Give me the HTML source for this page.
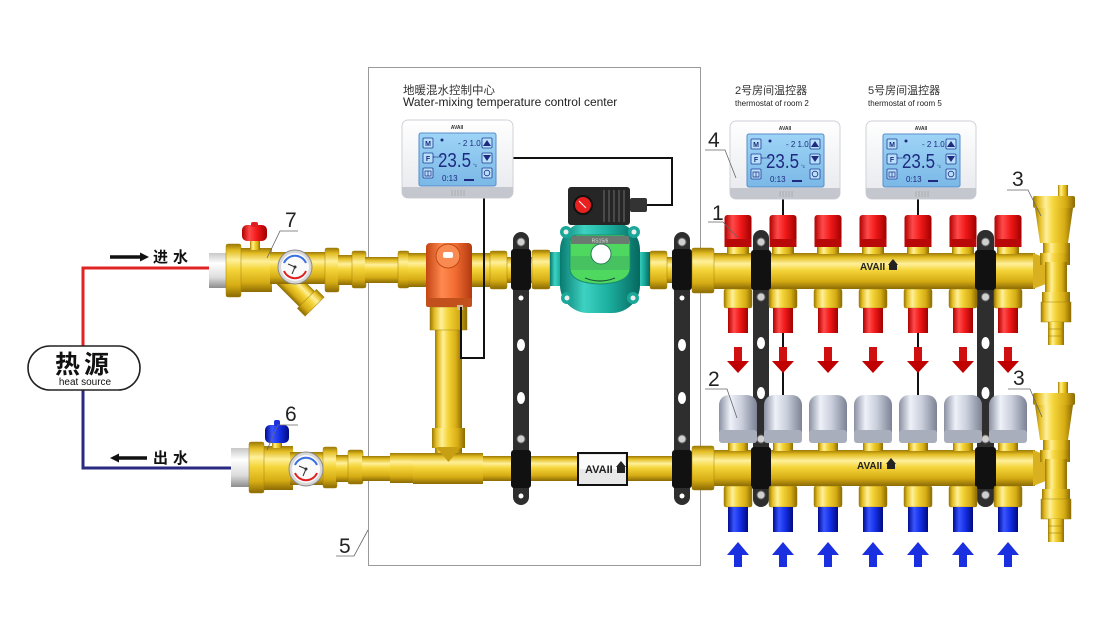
<!DOCTYPE html>
<html><head><meta charset="utf-8">
<style>
html,body{margin:0;padding:0;background:#fff;}
svg{display:block;}
text{font-family:"Liberation Sans","Noto Sans CJK SC",sans-serif;}
.num{font-family:"Liberation Sans Narrow","Liberation Sans",sans-serif;font-size:21px;fill:#222;}
</style></head><body>
<svg width="1099" height="625" viewBox="0 0 1099 625" xmlns="http://www.w3.org/2000/svg">
<defs>
<linearGradient id="bh" x1="0" y1="0" x2="0" y2="1">
 <stop offset="0" stop-color="#9a7806"/><stop offset="0.12" stop-color="#e2bc22"/><stop offset="0.3" stop-color="#fff09a"/><stop offset="0.48" stop-color="#f4d53a"/><stop offset="0.78" stop-color="#d6ac14"/><stop offset="1" stop-color="#8a6a04"/>
</linearGradient>
<linearGradient id="bv" x1="0" y1="0" x2="1" y2="0">
 <stop offset="0" stop-color="#9a7806"/><stop offset="0.12" stop-color="#e2bc22"/><stop offset="0.3" stop-color="#fff09a"/><stop offset="0.48" stop-color="#f4d53a"/><stop offset="0.78" stop-color="#d6ac14"/><stop offset="1" stop-color="#8a6a04"/>
</linearGradient>
<linearGradient id="rv" x1="0" y1="0" x2="1" y2="0">
 <stop offset="0" stop-color="#b00000"/><stop offset="0.3" stop-color="#ff4a4a"/><stop offset="0.6" stop-color="#f01818"/><stop offset="1" stop-color="#a00000"/>
</linearGradient>
<linearGradient id="blv" x1="0" y1="0" x2="1" y2="0">
 <stop offset="0" stop-color="#000c90"/><stop offset="0.3" stop-color="#3a55ff"/><stop offset="0.6" stop-color="#1530e8"/><stop offset="1" stop-color="#000a80"/>
</linearGradient>
<linearGradient id="sv" x1="0" y1="0" x2="1" y2="0">
 <stop offset="0" stop-color="#8a90a2"/><stop offset="0.3" stop-color="#eef1f8"/><stop offset="0.6" stop-color="#c9cedb"/><stop offset="1" stop-color="#7c8294"/>
</linearGradient>
<linearGradient id="tv" x1="0" y1="0" x2="1" y2="0">
 <stop offset="0" stop-color="#087a70"/><stop offset="0.3" stop-color="#3ed2c2"/><stop offset="0.6" stop-color="#1cb0a0"/><stop offset="1" stop-color="#06685e"/>
</linearGradient>
<linearGradient id="ov" x1="0" y1="0" x2="1" y2="0">
 <stop offset="0" stop-color="#c44412"/><stop offset="0.35" stop-color="#ff8a50"/><stop offset="0.65" stop-color="#f06a30"/><stop offset="1" stop-color="#b03a10"/>
</linearGradient>
<linearGradient id="wp" x1="0" y1="0" x2="0" y2="1">
 <stop offset="0" stop-color="#c8c8c8"/><stop offset="0.3" stop-color="#ffffff"/><stop offset="0.7" stop-color="#dcdcdc"/><stop offset="1" stop-color="#8c8c8c"/>
</linearGradient>
<linearGradient id="tb" x1="0" y1="0" x2="0" y2="1">
 <stop offset="0" stop-color="#ffffff"/><stop offset="1" stop-color="#e6e8ec"/>
</linearGradient>
<linearGradient id="scr" x1="0" y1="0" x2="0" y2="1">
 <stop offset="0" stop-color="#9ed4f6"/><stop offset="1" stop-color="#7ab8e6"/>
</linearGradient>
</defs>

<!-- control center frame -->
<rect x="368.5" y="67.5" width="332" height="498" fill="none" stroke="#9a9a9a" stroke-width="1"/>

<!-- heat source lines -->
<polyline points="83,348 83,268 212,268" fill="none" stroke="#e02424" stroke-width="3"/>
<polyline points="83,388 83,468 234,468" fill="none" stroke="#2a2a82" stroke-width="3"/>
<rect x="28" y="346" width="112" height="44" rx="22" fill="#fff" stroke="#222" stroke-width="1.6"/>
<text x="84" y="373" font-size="25" font-weight="bold" text-anchor="middle" fill="#111" letter-spacing="4" font-family="'Liberation Serif','Noto Serif CJK SC',serif">热源</text>
<text x="85" y="385" font-size="10" text-anchor="middle" fill="#111">heat source</text>

<!-- arrows in/out -->
<line x1="110" y1="257" x2="141" y2="257" stroke="#111" stroke-width="3.5"/>
<polygon points="140,252.5 149,257 140,261.5" fill="#111"/>
<text x="153" y="262" font-size="15" font-weight="bold" fill="#111" letter-spacing="5">进水</text>
<line x1="118" y1="458" x2="147" y2="458" stroke="#111" stroke-width="3.5"/>
<polygon points="119,453.5 110,458 119,462.5" fill="#111"/>
<text x="153" y="463" font-size="15" font-weight="bold" fill="#111" letter-spacing="5">出水</text>

<!-- titles -->
<text x="403" y="94" font-size="11.5" fill="#333">地暖混水控制中心</text>
<text x="403" y="106" font-size="12" fill="#222">Water-mixing temperature control center</text>
<text x="735" y="94" font-size="11" fill="#333">2号房间温控器</text>
<text x="735" y="106" font-size="8" fill="#222">thermostat of room 2</text>
<text x="868" y="94" font-size="11" fill="#333">5号房间温控器</text>
<text x="868" y="106" font-size="8" fill="#222">thermostat of room 5</text>

<!-- ===== valve 7 (inlet) ===== -->
<rect x="209" y="253" width="22" height="35" fill="url(#wp)"/>
<g transform="translate(280,272) rotate(45)">
 <rect x="0" y="-11" width="42" height="22" fill="url(#bh)"/>
 <rect x="38" y="-13.5" width="11" height="27" fill="url(#bh)" stroke="#a0800a" stroke-width="0.5"/>
</g>
<rect x="240" y="248" width="32" height="44" fill="url(#bh)"/>
<rect x="270" y="252" width="58" height="32" fill="url(#bh)"/>
<rect x="226" y="244" width="15" height="53" rx="2" fill="url(#bh)" stroke="#a0800a" stroke-width="0.5"/>
<rect x="250" y="237" width="10" height="13" fill="url(#bv)"/>
<rect x="242" y="225" width="25" height="16" rx="5" fill="url(#rv)"/>
<rect x="251" y="222" width="7" height="5" rx="2" fill="#e02020"/>
<rect x="325" y="248" width="14" height="44" rx="2" fill="url(#bh)" stroke="#a0800a" stroke-width="0.5"/>
<rect x="338" y="255" width="15" height="30" fill="url(#bh)"/>
<rect x="352" y="251" width="14" height="37" rx="2" fill="url(#bh)" stroke="#a0800a" stroke-width="0.5"/>
<g transform="translate(295,267)">
 <circle r="17" fill="#d8d8d8" stroke="#888" stroke-width="1"/>
 <circle r="14" fill="#fafafa"/>
 <path d="M-11,-4 A12,12 0 0 1 11,-4" fill="none" stroke="#3a70e0" stroke-width="2"/>
 <path d="M-11,4 A12,12 0 0 0 11,4" fill="none" stroke="#e02020" stroke-width="2"/>
 <line x1="0" y1="0" x2="-7" y2="-3" stroke="#333" stroke-width="1"/>
 <line x1="0" y1="0" x2="-3" y2="7" stroke="#333" stroke-width="1"/>
 <circle r="1.5" fill="#333"/>
</g>

<!-- ===== valve 6 (outlet) ===== -->
<rect x="231" y="448" width="20" height="39" fill="url(#wp)"/>
<rect x="263" y="446" width="30" height="44" fill="url(#bh)"/>
<rect x="290" y="452" width="35" height="33" fill="url(#bh)"/>
<rect x="249" y="442" width="15" height="51" rx="2" fill="url(#bh)" stroke="#a0800a" stroke-width="0.5"/>
<rect x="272" y="437" width="10" height="11" fill="url(#bv)"/>
<rect x="265" y="425" width="24" height="18" rx="5" fill="url(#blv)"/>
<rect x="274" y="420" width="6" height="6" rx="2" fill="#1a30e0"/>
<rect x="323" y="447" width="14" height="41" rx="2" fill="url(#bh)" stroke="#a0800a" stroke-width="0.5"/>
<rect x="336" y="455" width="13" height="27" fill="url(#bh)"/>
<rect x="348" y="450" width="15" height="34" rx="2" fill="url(#bh)" stroke="#a0800a" stroke-width="0.5"/>
<g transform="translate(306,469)">
 <circle r="17" fill="#d8d8d8" stroke="#888" stroke-width="1"/>
 <circle r="14" fill="#fafafa"/>
 <path d="M-11,-4 A12,12 0 0 1 11,-4" fill="none" stroke="#3a70e0" stroke-width="2"/>
 <path d="M-11,4 A12,12 0 0 0 11,4" fill="none" stroke="#e02020" stroke-width="2"/>
 <line x1="0" y1="0" x2="-7" y2="-3" stroke="#333" stroke-width="1"/>
 <line x1="0" y1="0" x2="-3" y2="7" stroke="#333" stroke-width="1"/>
 <circle r="1.5" fill="#333"/>
</g>

<!-- ===== main pipes ===== -->
<rect x="365" y="257" width="335" height="26" fill="url(#bh)"/>
<rect x="362" y="456" width="338" height="25" fill="url(#bh)"/>

<!-- upper fittings -->
<rect x="398" y="251" width="11" height="37" rx="2" fill="url(#bh)" stroke="#a0800a" stroke-width="0.5"/>
<rect x="408" y="253" width="64" height="34" fill="url(#bh)"/>
<rect x="471" y="253" width="20" height="34" fill="url(#bh)"/>
<rect x="490" y="251" width="17" height="38" rx="2" fill="url(#bh)" stroke="#a0800a" stroke-width="0.5"/>
<rect x="532" y="250" width="18" height="39" rx="2" fill="url(#bh)" stroke="#a0800a" stroke-width="0.5"/>
<rect x="650" y="251" width="17" height="38" rx="2" fill="url(#bh)" stroke="#a0800a" stroke-width="0.5"/>

<!-- bypass vertical -->
<rect x="435" y="318" width="27" height="140" fill="url(#bv)"/>
<rect x="432" y="428" width="33" height="20" fill="url(#bv)"/>
<rect x="430" y="307" width="37" height="23" fill="url(#bv)" stroke="#a0800a" stroke-width="0.5"/>
<!-- lower fittings -->
<rect x="390" y="453" width="23" height="30" fill="url(#bh)"/>
<rect x="413" y="453" width="70" height="31" fill="url(#bh)"/>
<polygon points="436,447 461,447 448.5,462" fill="#c89e12"/>

<!-- orange actuator -->
<rect x="426" y="243" width="46" height="64" rx="4" fill="url(#ov)"/>
<rect x="426" y="298" width="46" height="9" rx="2" fill="#c2501c"/>
<circle cx="448" cy="256" r="12" fill="#f88a52" stroke="#c04a10" stroke-width="1"/>
<rect x="443" y="252" width="10" height="6" rx="2" fill="#fff"/>
<rect x="457" y="305" width="6" height="5" fill="#d8b890"/>

<!-- brackets in control box -->
<g>
 <rect x="513" y="232" width="16" height="273" rx="8" fill="#2e2e2e"/>
 <rect x="511" y="249" width="20" height="41" rx="3" fill="#111"/>
 <rect x="511" y="450" width="20" height="38" rx="3" fill="#111"/>
 <circle cx="521" cy="242" r="4" fill="#cfcfcf" stroke="#666"/>
 <circle cx="521" cy="298" r="2.5" fill="#fff"/>
 <ellipse cx="521" cy="345" rx="4" ry="6" fill="#fff"/>
 <ellipse cx="521" cy="398" rx="4" ry="6" fill="#fff"/>
 <circle cx="521" cy="439" r="4" fill="#cfcfcf" stroke="#666"/>
 <circle cx="521" cy="496" r="2.5" fill="#fff"/>
</g>
<g>
 <rect x="674" y="232" width="16" height="273" rx="8" fill="#2e2e2e"/>
 <rect x="672" y="249" width="20" height="41" rx="3" fill="#111"/>
 <rect x="672" y="450" width="20" height="38" rx="3" fill="#111"/>
 <circle cx="682" cy="242" r="4" fill="#cfcfcf" stroke="#666"/>
 <circle cx="682" cy="298" r="2.5" fill="#fff"/>
 <ellipse cx="682" cy="345" rx="4" ry="6" fill="#fff"/>
 <ellipse cx="682" cy="398" rx="4" ry="6" fill="#fff"/>
 <circle cx="682" cy="439" r="4" fill="#cfcfcf" stroke="#666"/>
 <circle cx="682" cy="496" r="2.5" fill="#fff"/>
</g>

<!-- AVAII label on lower pipe -->
<rect x="578" y="453" width="49" height="32" fill="#e8e8e8" stroke="#111" stroke-width="2"/>
<rect x="580" y="455" width="45" height="14" fill="#fbfbfb"/>
<text x="585" y="473" font-size="11" font-weight="bold" fill="#222">AVAII</text>
<path d="M616,467 L621,461 L626,467 Z M617,467 h8 v6 h-8 Z" fill="#222"/>

<!-- pump -->
<rect x="550" y="252" width="16" height="34" fill="url(#tv)"/>
<rect x="634" y="252" width="16" height="34" fill="url(#tv)"/>
<rect x="560" y="222" width="80" height="91" rx="28" fill="url(#tv)"/>
<circle cx="566" cy="232" r="6" fill="#1aa898"/><circle cx="634" cy="232" r="6" fill="#1aa898"/>
<circle cx="567" cy="298" r="6" fill="#1aa898"/><circle cx="633" cy="298" r="6" fill="#1aa898"/>
<circle cx="566" cy="232" r="2.5" fill="#eee"/><circle cx="634" cy="232" r="2.5" fill="#eee"/>
<circle cx="567" cy="298" r="2.5" fill="#eee"/><circle cx="633" cy="298" r="2.5" fill="#eee"/>
<path d="M570,243 Q570,235 578,235 H622 Q630,235 630,243 V268 Q630,283 600,284 Q570,283 570,268 Z" fill="#4fd860" stroke="#1a8a70" stroke-width="1"/>
<rect x="571" y="236" width="58" height="8" fill="#6a7a70"/>
<text x="600" y="242.5" font-size="5" fill="#ddd" text-anchor="middle">RS15/6</text>
<rect x="571" y="256" width="58" height="14" fill="#3a9a60" opacity="0.35"/>
<circle cx="601" cy="254" r="10" fill="#fff" stroke="#2a7a5a" stroke-width="1"/>
<path d="M585,278 Q600,284 615,278" fill="none" stroke="#1a5a3a" stroke-width="1.2"/>
<rect x="568" y="187" width="62" height="38" rx="3" fill="#262626"/>
<g stroke="#555" stroke-width="1.5">
 <line x1="604" y1="190" x2="604" y2="222"/><line x1="609" y1="190" x2="609" y2="222"/><line x1="614" y1="190" x2="614" y2="222"/><line x1="619" y1="190" x2="619" y2="222"/><line x1="624" y1="190" x2="624" y2="222"/>
</g>
<rect x="630" y="198" width="17" height="14" rx="2" fill="#333"/>
<circle cx="583" cy="205" r="9" fill="#e82020" stroke="#111" stroke-width="2"/>
<line x1="579" y1="201" x2="586" y2="208" stroke="#fff" stroke-width="1"/>

<!-- control cables -->
<polyline points="484,198 484,358 461,358 461,307" fill="none" stroke="#111" stroke-width="2"/>
<polyline points="513,158 672,158 672,205 647,205" fill="none" stroke="#111" stroke-width="2"/>

<!-- room cables -->
<line x1="783" y1="199" x2="783" y2="216" stroke="#111" stroke-width="2"/>
<line x1="918" y1="199" x2="918" y2="216" stroke="#111" stroke-width="2"/>
<line x1="783" y1="330" x2="783" y2="397" stroke="#111" stroke-width="2"/>
<line x1="918" y1="330" x2="918" y2="397" stroke="#111" stroke-width="2"/>

<!-- ===== manifolds ===== -->
<rect x="697" y="253" width="338" height="36" fill="url(#bh)"/>
<polygon points="1033,253 1056,262 1056,280 1033,289" fill="#d8b020"/>
<rect x="692" y="248" width="22" height="45" rx="2" fill="url(#bh)" stroke="#a0800a" stroke-width="0.5"/>
<rect x="697" y="450" width="338" height="36" fill="url(#bh)"/>
<polygon points="1033,450 1056,459 1056,477 1033,486" fill="#d8b020"/>
<rect x="692" y="446" width="22" height="44" rx="2" fill="url(#bh)" stroke="#a0800a" stroke-width="0.5"/>

<text x="860" y="270" font-size="10" font-weight="bold" fill="#222">AVAII</text>
<path d="M888,265 L893,259 L898,265 Z M889,265 h8 v5 h-8 Z" fill="#222"/>
<text x="857" y="469" font-size="10" font-weight="bold" fill="#222">AVAII</text>
<path d="M886,464 L891,458 L896,464 Z M887,464 h8 v5 h-8 Z" fill="#222"/>

<!-- manifold brackets -->
<g>
 <rect x="753" y="230" width="16" height="277" rx="8" fill="#2e2e2e"/>
 <rect x="751" y="250" width="20" height="40" rx="3" fill="#111"/>
 <rect x="751" y="447" width="20" height="42" rx="3" fill="#111"/>
 <circle cx="761" cy="242" r="4" fill="#cfcfcf" stroke="#666"/>
 <circle cx="761" cy="297" r="4" fill="#cfcfcf" stroke="#666"/>
 <ellipse cx="761" cy="343" rx="4" ry="6" fill="#fff"/>
 <ellipse cx="761" cy="393" rx="4" ry="6" fill="#fff"/>
 <circle cx="761" cy="439" r="4" fill="#cfcfcf" stroke="#666"/>
 <circle cx="761" cy="495" r="4" fill="#cfcfcf" stroke="#666"/>
</g>
<g>
 <rect x="977" y="230" width="17" height="277" rx="8" fill="#2e2e2e"/>
 <rect x="975" y="250" width="21" height="40" rx="3" fill="#111"/>
 <rect x="975" y="447" width="21" height="42" rx="3" fill="#111"/>
 <circle cx="985.5" cy="242" r="4" fill="#cfcfcf" stroke="#666"/>
 <circle cx="985.5" cy="297" r="4" fill="#cfcfcf" stroke="#666"/>
 <ellipse cx="985.5" cy="343" rx="4" ry="6" fill="#fff"/>
 <ellipse cx="985.5" cy="393" rx="4" ry="6" fill="#fff"/>
 <circle cx="985.5" cy="439" r="4" fill="#cfcfcf" stroke="#666"/>
 <circle cx="985.5" cy="495" r="4" fill="#cfcfcf" stroke="#666"/>
</g>

<!-- outlets: caps, nuts, pipes, arrows -->
<g id="col738">
 <rect x="727" y="246" width="22" height="8" fill="url(#bv)"/>
 <rect x="724.5" y="215" width="27" height="32" rx="3" fill="url(#rv)"/>
 <rect x="724.5" y="239" width="27" height="8" fill="#b80808"/>
 <rect x="724" y="289" width="28" height="19" rx="2" fill="url(#bv)" stroke="#a0800a" stroke-width="0.5"/>
 <rect x="728" y="308" width="20" height="25" fill="url(#rv)"/>
 <rect x="734" y="347" width="8" height="15" fill="#d01010"/>
 <polygon points="727,361 749,361 738,373" fill="#c00000"/>
 <rect x="719" y="395" width="38" height="48" rx="10" fill="url(#sv)"/>
 <rect x="719" y="430" width="38" height="13" rx="3" fill="#a8aebc"/>
 <rect x="728" y="443" width="20" height="8" fill="url(#bv)"/>
 <rect x="724" y="486" width="28" height="21" rx="2" fill="url(#bv)" stroke="#a0800a" stroke-width="0.5"/>
 <rect x="728" y="507" width="20" height="25" fill="url(#blv)"/>
 <polygon points="738,542 749,555 727,555" fill="#1a30e0"/>
 <rect x="734" y="554" width="8" height="13" fill="#1a30e0"/>
</g>
<g transform="translate(45,0)">
 <rect x="727" y="246" width="22" height="8" fill="url(#bv)"/>
 <rect x="724.5" y="215" width="27" height="32" rx="3" fill="url(#rv)"/>
 <rect x="724.5" y="239" width="27" height="8" fill="#b80808"/>
 <rect x="724" y="289" width="28" height="19" rx="2" fill="url(#bv)" stroke="#a0800a" stroke-width="0.5"/>
 <rect x="728" y="308" width="20" height="25" fill="url(#rv)"/>
 <rect x="734" y="347" width="8" height="15" fill="#d01010"/>
 <polygon points="727,361 749,361 738,373" fill="#c00000"/>
 <rect x="719" y="395" width="38" height="48" rx="10" fill="url(#sv)"/>
 <rect x="719" y="430" width="38" height="13" rx="3" fill="#a8aebc"/>
 <rect x="728" y="443" width="20" height="8" fill="url(#bv)"/>
 <rect x="724" y="486" width="28" height="21" rx="2" fill="url(#bv)" stroke="#a0800a" stroke-width="0.5"/>
 <rect x="728" y="507" width="20" height="25" fill="url(#blv)"/>
 <polygon points="738,542 749,555 727,555" fill="#1a30e0"/>
 <rect x="734" y="554" width="8" height="13" fill="#1a30e0"/>
</g>
<g transform="translate(90,0)">
 <rect x="727" y="246" width="22" height="8" fill="url(#bv)"/>
 <rect x="724.5" y="215" width="27" height="32" rx="3" fill="url(#rv)"/>
 <rect x="724.5" y="239" width="27" height="8" fill="#b80808"/>
 <rect x="724" y="289" width="28" height="19" rx="2" fill="url(#bv)" stroke="#a0800a" stroke-width="0.5"/>
 <rect x="728" y="308" width="20" height="25" fill="url(#rv)"/>
 <rect x="734" y="347" width="8" height="15" fill="#d01010"/>
 <polygon points="727,361 749,361 738,373" fill="#c00000"/>
 <rect x="719" y="395" width="38" height="48" rx="10" fill="url(#sv)"/>
 <rect x="719" y="430" width="38" height="13" rx="3" fill="#a8aebc"/>
 <rect x="728" y="443" width="20" height="8" fill="url(#bv)"/>
 <rect x="724" y="486" width="28" height="21" rx="2" fill="url(#bv)" stroke="#a0800a" stroke-width="0.5"/>
 <rect x="728" y="507" width="20" height="25" fill="url(#blv)"/>
 <polygon points="738,542 749,555 727,555" fill="#1a30e0"/>
 <rect x="734" y="554" width="8" height="13" fill="#1a30e0"/>
</g>
<g transform="translate(135,0)">
 <rect x="727" y="246" width="22" height="8" fill="url(#bv)"/>
 <rect x="724.5" y="215" width="27" height="32" rx="3" fill="url(#rv)"/>
 <rect x="724.5" y="239" width="27" height="8" fill="#b80808"/>
 <rect x="724" y="289" width="28" height="19" rx="2" fill="url(#bv)" stroke="#a0800a" stroke-width="0.5"/>
 <rect x="728" y="308" width="20" height="25" fill="url(#rv)"/>
 <rect x="734" y="347" width="8" height="15" fill="#d01010"/>
 <polygon points="727,361 749,361 738,373" fill="#c00000"/>
 <rect x="719" y="395" width="38" height="48" rx="10" fill="url(#sv)"/>
 <rect x="719" y="430" width="38" height="13" rx="3" fill="#a8aebc"/>
 <rect x="728" y="443" width="20" height="8" fill="url(#bv)"/>
 <rect x="724" y="486" width="28" height="21" rx="2" fill="url(#bv)" stroke="#a0800a" stroke-width="0.5"/>
 <rect x="728" y="507" width="20" height="25" fill="url(#blv)"/>
 <polygon points="738,542 749,555 727,555" fill="#1a30e0"/>
 <rect x="734" y="554" width="8" height="13" fill="#1a30e0"/>
</g>
<g transform="translate(180,0)">
 <rect x="727" y="246" width="22" height="8" fill="url(#bv)"/>
 <rect x="724.5" y="215" width="27" height="32" rx="3" fill="url(#rv)"/>
 <rect x="724.5" y="239" width="27" height="8" fill="#b80808"/>
 <rect x="724" y="289" width="28" height="19" rx="2" fill="url(#bv)" stroke="#a0800a" stroke-width="0.5"/>
 <rect x="728" y="308" width="20" height="25" fill="url(#rv)"/>
 <rect x="734" y="347" width="8" height="15" fill="#d01010"/>
 <polygon points="727,361 749,361 738,373" fill="#c00000"/>
 <rect x="719" y="395" width="38" height="48" rx="10" fill="url(#sv)"/>
 <rect x="719" y="430" width="38" height="13" rx="3" fill="#a8aebc"/>
 <rect x="728" y="443" width="20" height="8" fill="url(#bv)"/>
 <rect x="724" y="486" width="28" height="21" rx="2" fill="url(#bv)" stroke="#a0800a" stroke-width="0.5"/>
 <rect x="728" y="507" width="20" height="25" fill="url(#blv)"/>
 <polygon points="738,542 749,555 727,555" fill="#1a30e0"/>
 <rect x="734" y="554" width="8" height="13" fill="#1a30e0"/>
</g>
<g transform="translate(225,0)">
 <rect x="727" y="246" width="22" height="8" fill="url(#bv)"/>
 <rect x="724.5" y="215" width="27" height="32" rx="3" fill="url(#rv)"/>
 <rect x="724.5" y="239" width="27" height="8" fill="#b80808"/>
 <rect x="724" y="289" width="28" height="19" rx="2" fill="url(#bv)" stroke="#a0800a" stroke-width="0.5"/>
 <rect x="728" y="308" width="20" height="25" fill="url(#rv)"/>
 <rect x="734" y="347" width="8" height="15" fill="#d01010"/>
 <polygon points="727,361 749,361 738,373" fill="#c00000"/>
 <rect x="719" y="395" width="38" height="48" rx="10" fill="url(#sv)"/>
 <rect x="719" y="430" width="38" height="13" rx="3" fill="#a8aebc"/>
 <rect x="728" y="443" width="20" height="8" fill="url(#bv)"/>
 <rect x="724" y="486" width="28" height="21" rx="2" fill="url(#bv)" stroke="#a0800a" stroke-width="0.5"/>
 <rect x="728" y="507" width="20" height="25" fill="url(#blv)"/>
 <polygon points="738,542 749,555 727,555" fill="#1a30e0"/>
 <rect x="734" y="554" width="8" height="13" fill="#1a30e0"/>
</g>
<g transform="translate(270,0)">
 <rect x="727" y="246" width="22" height="8" fill="url(#bv)"/>
 <rect x="724.5" y="215" width="27" height="32" rx="3" fill="url(#rv)"/>
 <rect x="724.5" y="239" width="27" height="8" fill="#b80808"/>
 <rect x="724" y="289" width="28" height="19" rx="2" fill="url(#bv)" stroke="#a0800a" stroke-width="0.5"/>
 <rect x="728" y="308" width="20" height="25" fill="url(#rv)"/>
 <rect x="734" y="347" width="8" height="15" fill="#d01010"/>
 <polygon points="727,361 749,361 738,373" fill="#c00000"/>
 <rect x="719" y="395" width="38" height="48" rx="10" fill="url(#sv)"/>
 <rect x="719" y="430" width="38" height="13" rx="3" fill="#a8aebc"/>
 <rect x="728" y="443" width="20" height="8" fill="url(#bv)"/>
 <rect x="724" y="486" width="28" height="21" rx="2" fill="url(#bv)" stroke="#a0800a" stroke-width="0.5"/>
 <rect x="728" y="507" width="20" height="25" fill="url(#blv)"/>
 <polygon points="738,542 749,555 727,555" fill="#1a30e0"/>
 <rect x="734" y="554" width="8" height="13" fill="#1a30e0"/>
</g>

<!-- air vents -->
<g>
 <rect x="1058" y="185" width="10" height="12" fill="url(#bv)"/>
 <rect x="1033" y="196" width="42" height="12" rx="2" fill="url(#bv)"/>
 <polygon points="1035,208 1073,208 1068,243 1040,243" fill="url(#bv)"/>
 <rect x="1043" y="243" width="27" height="10" fill="url(#bv)"/>
 <rect x="1040" y="253" width="30" height="12" fill="url(#bv)"/>
 <rect x="1045" y="262" width="22" height="30" fill="url(#bv)"/>
 <rect x="1042" y="292" width="28" height="10" fill="url(#bv)"/>
 <rect x="1041" y="302" width="30" height="20" fill="url(#bv)" stroke="#a0800a" stroke-width="0.5"/>
 <rect x="1048" y="322" width="16" height="23" fill="url(#bv)"/>
 <g stroke="#a0800a" stroke-width="0.6"><line x1="1048" y1="329" x2="1064" y2="329"/><line x1="1048" y1="336" x2="1064" y2="336"/></g>
</g>
<g transform="translate(0,197)">
 <rect x="1058" y="185" width="10" height="12" fill="url(#bv)"/>
 <rect x="1033" y="196" width="42" height="12" rx="2" fill="url(#bv)"/>
 <polygon points="1035,208 1073,208 1068,243 1040,243" fill="url(#bv)"/>
 <rect x="1043" y="243" width="27" height="10" fill="url(#bv)"/>
 <rect x="1040" y="253" width="30" height="12" fill="url(#bv)"/>
 <rect x="1045" y="262" width="22" height="30" fill="url(#bv)"/>
 <rect x="1042" y="292" width="28" height="10" fill="url(#bv)"/>
 <rect x="1041" y="302" width="30" height="20" fill="url(#bv)" stroke="#a0800a" stroke-width="0.5"/>
 <rect x="1048" y="322" width="16" height="23" fill="url(#bv)"/>
 <g stroke="#a0800a" stroke-width="0.6"><line x1="1048" y1="329" x2="1064" y2="329"/><line x1="1048" y1="336" x2="1064" y2="336"/></g>
</g>

<!-- thermostats -->
<g transform="translate(402,120)">
 <rect x="0" y="0" width="111" height="78" rx="6" fill="url(#tb)" stroke="#d0d2d8"/>
 <path d="M0,67 H111 V72 Q111,78 105,78 H6 Q0,78 0,72 Z" fill="#c4c7ce"/>
 <g stroke="#999" stroke-width="0.6"><line x1="50" y1="70" x2="50" y2="76"/><line x1="53" y1="70" x2="53" y2="76"/><line x1="56" y1="70" x2="56" y2="76"/><line x1="59" y1="70" x2="59" y2="76"/><line x1="62" y1="70" x2="62" y2="76"/></g>
 <text x="55" y="9" font-size="5" font-weight="bold" text-anchor="middle" fill="#333">AVAII</text>
 <rect x="17" y="13" width="77" height="53" rx="2" fill="url(#scr)" stroke="#5a8cc8"/>
 <g fill="#b8e0fa" stroke="#1e3c96" stroke-width="0.8"><rect x="21" y="18" width="10" height="10" rx="1"/><rect x="21" y="33" width="10" height="10" rx="1"/><rect x="21" y="48" width="10" height="10" rx="1"/><rect x="80" y="18" width="10" height="10" rx="1"/><rect x="80" y="33" width="10" height="10" rx="1"/><rect x="80" y="48" width="10" height="10" rx="1"/></g>
 <text x="26" y="26" font-size="7" font-weight="bold" fill="#1e2a80" text-anchor="middle">M</text>
 <text x="26" y="41" font-size="7" font-weight="bold" fill="#1e2a80" text-anchor="middle">F</text>
 <path d="M23,51 h6 v5 h-6 Z M26,51 v5" fill="none" stroke="#1e2a80" stroke-width="0.7"/>
 <polygon points="85,20 89,26 81,26" fill="#1e2a80"/>
 <polygon points="81,35 89,35 85,41" fill="#1e2a80"/>
 <circle cx="85" cy="53" r="2.8" fill="none" stroke="#1e2a80" stroke-width="0.8"/>
 <circle cx="40" cy="20" r="1.5" fill="#1e2a80"/>
 <text x="56" y="26" font-size="8" fill="#1e2a80">- 2 1.0.</text>
 <text x="36" y="47" font-size="20" fill="#1e2a80" textLength="33" lengthAdjust="spacingAndGlyphs">23.5</text>
 <text x="71" y="47" font-size="4.5" fill="#1e2a80">°c</text>
 <text x="31" y="38" font-size="3" fill="#1e2a80">ROOM</text>
 <text x="40" y="61" font-size="8" fill="#1e2a80">0:13</text>
 <rect x="62" y="59" width="10" height="2" fill="#1e2a80"/>
</g>
<g transform="translate(730,121)">
 <rect x="0" y="0" width="110" height="78" rx="6" fill="url(#tb)" stroke="#d0d2d8"/>
 <path d="M0,67 H110 V72 Q110,78 104,78 H6 Q0,78 0,72 Z" fill="#c4c7ce"/>
 <g stroke="#999" stroke-width="0.6"><line x1="50" y1="70" x2="50" y2="76"/><line x1="53" y1="70" x2="53" y2="76"/><line x1="56" y1="70" x2="56" y2="76"/><line x1="59" y1="70" x2="59" y2="76"/><line x1="62" y1="70" x2="62" y2="76"/></g>
 <text x="55" y="9" font-size="5" font-weight="bold" text-anchor="middle" fill="#333">AVAII</text>
 <rect x="17" y="13" width="77" height="53" rx="2" fill="url(#scr)" stroke="#5a8cc8"/>
 <g fill="#b8e0fa" stroke="#1e3c96" stroke-width="0.8"><rect x="21" y="18" width="10" height="10" rx="1"/><rect x="21" y="33" width="10" height="10" rx="1"/><rect x="21" y="48" width="10" height="10" rx="1"/><rect x="80" y="18" width="10" height="10" rx="1"/><rect x="80" y="33" width="10" height="10" rx="1"/><rect x="80" y="48" width="10" height="10" rx="1"/></g>
 <text x="26" y="26" font-size="7" font-weight="bold" fill="#1e2a80" text-anchor="middle">M</text>
 <text x="26" y="41" font-size="7" font-weight="bold" fill="#1e2a80" text-anchor="middle">F</text>
 <path d="M23,51 h6 v5 h-6 Z M26,51 v5" fill="none" stroke="#1e2a80" stroke-width="0.7"/>
 <polygon points="85,20 89,26 81,26" fill="#1e2a80"/>
 <polygon points="81,35 89,35 85,41" fill="#1e2a80"/>
 <circle cx="85" cy="53" r="2.8" fill="none" stroke="#1e2a80" stroke-width="0.8"/>
 <circle cx="40" cy="20" r="1.5" fill="#1e2a80"/>
 <text x="56" y="26" font-size="8" fill="#1e2a80">- 2 1.0.</text>
 <text x="36" y="47" font-size="20" fill="#1e2a80" textLength="33" lengthAdjust="spacingAndGlyphs">23.5</text>
 <text x="71" y="47" font-size="4.5" fill="#1e2a80">°c</text>
 <text x="31" y="38" font-size="3" fill="#1e2a80">ROOM</text>
 <text x="40" y="61" font-size="8" fill="#1e2a80">0:13</text>
 <rect x="62" y="59" width="10" height="2" fill="#1e2a80"/>
</g>
<g transform="translate(866,121)">
 <rect x="0" y="0" width="110" height="78" rx="6" fill="url(#tb)" stroke="#d0d2d8"/>
 <path d="M0,67 H110 V72 Q110,78 104,78 H6 Q0,78 0,72 Z" fill="#c4c7ce"/>
 <g stroke="#999" stroke-width="0.6"><line x1="50" y1="70" x2="50" y2="76"/><line x1="53" y1="70" x2="53" y2="76"/><line x1="56" y1="70" x2="56" y2="76"/><line x1="59" y1="70" x2="59" y2="76"/><line x1="62" y1="70" x2="62" y2="76"/></g>
 <text x="55" y="9" font-size="5" font-weight="bold" text-anchor="middle" fill="#333">AVAII</text>
 <rect x="17" y="13" width="77" height="53" rx="2" fill="url(#scr)" stroke="#5a8cc8"/>
 <g fill="#b8e0fa" stroke="#1e3c96" stroke-width="0.8"><rect x="21" y="18" width="10" height="10" rx="1"/><rect x="21" y="33" width="10" height="10" rx="1"/><rect x="21" y="48" width="10" height="10" rx="1"/><rect x="80" y="18" width="10" height="10" rx="1"/><rect x="80" y="33" width="10" height="10" rx="1"/><rect x="80" y="48" width="10" height="10" rx="1"/></g>
 <text x="26" y="26" font-size="7" font-weight="bold" fill="#1e2a80" text-anchor="middle">M</text>
 <text x="26" y="41" font-size="7" font-weight="bold" fill="#1e2a80" text-anchor="middle">F</text>
 <path d="M23,51 h6 v5 h-6 Z M26,51 v5" fill="none" stroke="#1e2a80" stroke-width="0.7"/>
 <polygon points="85,20 89,26 81,26" fill="#1e2a80"/>
 <polygon points="81,35 89,35 85,41" fill="#1e2a80"/>
 <circle cx="85" cy="53" r="2.8" fill="none" stroke="#1e2a80" stroke-width="0.8"/>
 <circle cx="40" cy="20" r="1.5" fill="#1e2a80"/>
 <text x="56" y="26" font-size="8" fill="#1e2a80">- 2 1.0.</text>
 <text x="36" y="47" font-size="20" fill="#1e2a80" textLength="33" lengthAdjust="spacingAndGlyphs">23.5</text>
 <text x="71" y="47" font-size="4.5" fill="#1e2a80">°c</text>
 <text x="31" y="38" font-size="3" fill="#1e2a80">ROOM</text>
 <text x="40" y="61" font-size="8" fill="#1e2a80">0:13</text>
 <rect x="62" y="59" width="10" height="2" fill="#1e2a80"/>
</g>

<!-- number labels and leaders -->
<g stroke="#666" stroke-width="0.8" fill="none">
 <polyline points="298,231 280,231 267,258"/>
 <polyline points="298,425 278,425 267,450"/>
 <polyline points="336,556 354,556 368,530"/>
 <polyline points="705,150 725,150 736,178"/>
 <polyline points="708,222 723,222 737,237"/>
 <polyline points="705,389 727,389 737,418"/>
 <polyline points="1007,190 1028,190 1041,216"/>
 <polyline points="1008,389 1030,389 1042,417"/>
</g>
<text class="num" x="285" y="227">7</text>
<text class="num" x="285" y="421">6</text>
<text class="num" x="339" y="553">5</text>
<text class="num" x="708" y="147">4</text>
<text class="num" x="712" y="220">1</text>
<text class="num" x="708" y="386">2</text>
<text class="num" x="1012" y="186">3</text>
<text class="num" x="1013" y="385">3</text>
</svg>
</body></html>
